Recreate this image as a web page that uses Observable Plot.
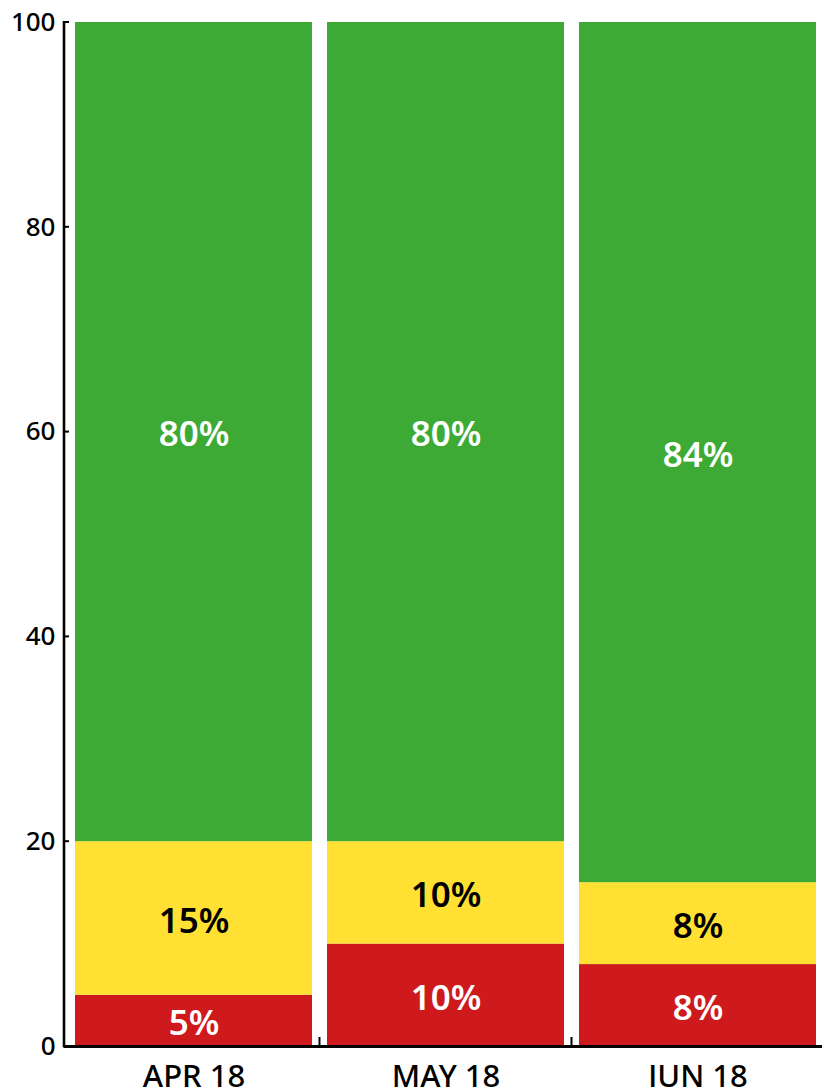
<!DOCTYPE html>
<html><head><meta charset="utf-8">
<script src="https://cdn.jsdelivr.net/npm/d3@7"></script>
<script src="https://cdn.jsdelivr.net/npm/@observablehq/plot@0.6"></script>
<style>
body{margin:0;background:#fff;}
#chart svg{display:block;}
</style>
</head><body><div id="chart"></div>
<script>
const months = ["APR 18", "MAY 18", "JUN 18"];
const categories = ["Red", "Yellow", "Green"];
const redValues = [5, 10, 8];
const yellowValues = [15, 10, 8];
const greenValues = [80, 80, 84];
const yTicks = [0, 20, 40, 60, 80, 100];
const barColors = {Red: "#CE191D", Yellow: "#FFE033", Green: "#3DAA35"};
const labelColors = {Red: "#FFFFFF", Yellow: "#000000", Green: "#FFFFFF"};

const series = [redValues, yellowValues, greenValues];
const data = [];
months.forEach((m, i) => {
  categories.forEach((c, j) => data.push({month: m, cat: c, value: series[j][i]}));
});

const FONT = "'Noto Sans', sans-serif";

function axisLines(index, scales, values, dimensions) {
  const x = scales.x, y = scales.y;
  const g = d3.create("svg:g").attr("stroke", "#000");
  const left = dimensions.marginLeft;
  g.append("line").attr("x1", left).attr("x2", left)
    .attr("y1", y(100) - 1).attr("y2", y(0) + 1.5).attr("stroke-width", 2.6);
  for (const t of yTicks) {
    g.append("line").attr("x1", left).attr("x2", left + 5)
      .attr("y1", y(t)).attr("y2", y(t)).attr("stroke-width", 2);
  }
  const step = x(months[1]) - x(months[0]);
  const bw = typeof x.bandwidth === "function" ? x.bandwidth() : step * 0.94;
  for (let i = 1; i < months.length; i++) {
    const bx = x(months[i]) - (step - bw) / 2;
    g.append("line").attr("x1", bx).attr("x2", bx)
      .attr("y1", y(0)).attr("y2", y(0) - 9).attr("stroke-width", 2);
  }
  return g.node();
}

const chart = Plot.plot({
  width: 822,
  height: 1100,
  marginTop: 22,
  marginLeft: 64,
  marginRight: 0,
  marginBottom: 54,
  style: {fontFamily: FONT, background: "#fff"},
  x: {domain: months, paddingInner: 0.0593, paddingOuter: 0.0277, align: 0.64, label: null},
  y: {domain: [0, 100], label: null},
  color: {type: "identity"},
  marks: [
    Plot.barY(data, Plot.stackY({x: "month", y: "value", fill: d => barColors[d.cat]})),
    Plot.text(data, Plot.stackY({
      x: "month", y: "value",
      text: d => d.value + "%",
      fill: d => labelColors[d.cat],
      fontSize: 35, fontWeight: 600, dy: 3
    })),
    Plot.ruleY([0], {stroke: "#000", strokeWidth: 2.8}),
    Plot.axisY({ticks: yTicks, tickSize: 0, tickPadding: 9, fontSize: 26, fontWeight: 500, fill: "#000", label: null}),
    Plot.axisX({tickSize: 0, tickPadding: 18, fontSize: 31, fontWeight: 500, fill: "#000", label: null}),
    axisLines
  ]
});
document.getElementById("chart").appendChild(chart);
</script>
</body></html>
